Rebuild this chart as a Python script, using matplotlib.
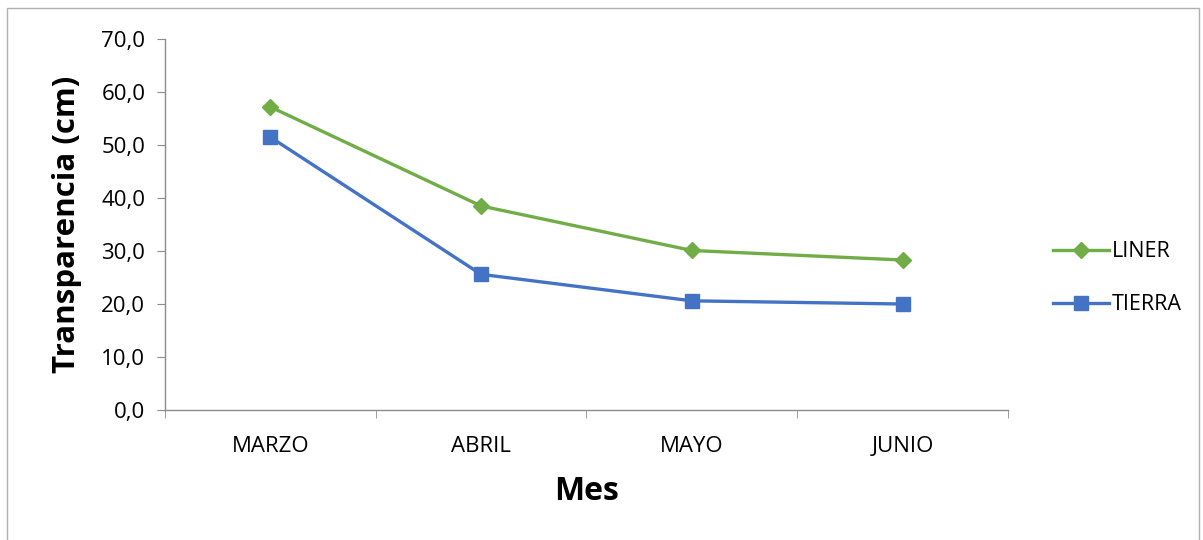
import matplotlib.pyplot as plt
from matplotlib.patches import Rectangle
from matplotlib.ticker import FixedLocator, FuncFormatter

meses = ["MARZO", "ABRIL", "MAYO", "JUNIO"]
liner = [57.2, 38.5, 30.1, 28.3]
tierra = [51.5, 25.6, 20.6, 20.0]

plt.rcParams["font.family"] = ["Open Sans", "DejaVu Sans"]

fig = plt.figure(figsize=(12.03, 5.4), dpi=100)
ax = fig.add_axes([0.137, 0.2407, 0.701, 0.6871])

# borde del área del gráfico
fig.patches.append(Rectangle((0.006, -0.05), 0.991, 1.035, transform=fig.transFigure,
                             fill=False, edgecolor="#b0b0b0", linewidth=1.0))

x = list(range(len(meses)))
ax.plot(x, liner, color="#70AD47", lw=2.4, marker="D", markersize=8.5, label="LINER")
ax.plot(x, tierra, color="#4472C4", lw=2.4, marker="s", markersize=10, label="TIERRA")

ax.set_xlim(-0.5, 3.5)
ax.set_ylim(0, 70)
ax.set_yticks(range(0, 71, 10))
ax.yaxis.set_major_formatter(FuncFormatter(lambda v, p: f"{v:.1f}".replace(".", ",")))

ax.set_xticks(x)
ax.set_xticklabels(meses)
ax.xaxis.set_minor_locator(FixedLocator([-0.5, 0.5, 1.5, 2.5, 3.5]))
ax.tick_params(axis="x", which="major", length=0, pad=19, labelsize=16)
ax.tick_params(axis="x", which="minor", length=6, color="#8c8c8c", direction="out")
ax.tick_params(axis="y", length=6, color="#8c8c8c", pad=8, labelsize=16)

for s in ["top", "right"]:
    ax.spines[s].set_visible(False)
for s in ["left", "bottom"]:
    ax.spines[s].set_color("#8c8c8c")
    ax.spines[s].set_linewidth(1.0)

ax.set_ylabel("Transparencia (cm)", fontsize=22.5, fontweight="bold", labelpad=14)
ax.set_xlabel("Mes", fontsize=23, fontweight="bold", labelpad=13)

ax.legend(loc="center left", bbox_to_anchor=(1.03, 0.355), frameon=False, fontsize=15.5,
          handlelength=2.6, handletextpad=0.15, labelspacing=1.5)

fig.savefig("out.png", dpi=100)
